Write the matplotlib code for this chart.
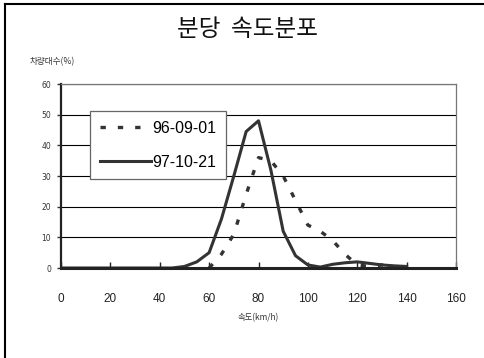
import matplotlib
matplotlib.use('Agg')
import matplotlib.pyplot as plt
from matplotlib.lines import Line2D

# speed (km/h) and share of vehicles (%)
speed_96 = [60, 65, 70, 75, 80, 85, 90, 95, 100, 105, 110, 115, 120, 125, 130, 135, 140]
share_96 = [0, 4.5, 11, 24, 36, 35, 30, 22, 14, 12, 9, 4.5, 1, 0.5, 1, 0.3, 0.3]

speed_97 = [0, 45, 50, 55, 60, 65, 70, 75, 80, 85, 90, 95, 100, 105, 110, 115, 120, 125, 130, 135, 140]
share_97 = [0, 0, 0.5, 2, 5, 16, 30, 44.5, 48, 32, 12, 4, 1, 0.3, 1.2, 1.7, 2, 1.5, 1, 0.7, 0.5]

labels = ['96-09-01', '97-10-21']
xticks = [0, 20, 40, 60, 80, 100, 120, 140, 160]
yticks = [0, 10, 20, 30, 40, 50, 60]

kr = ['Noto Sans CJK KR', 'DejaVu Sans']
narrow = ['Liberation Sans Narrow', 'Liberation Sans', 'DejaVu Sans']

def main():
    fig = plt.figure(figsize=(4.84, 3.58), dpi=100)
    ax = fig.add_axes([61/484, 1 - 268/358, 395/484, 184/358])

    ax.plot(speed_96, share_96, color='#333333', lw=2.4,
            linestyle=(0, (1.6, 3.6)), label=labels[0])
    ax.plot(speed_97, share_97, color='#333333', lw=2.2,
            solid_joinstyle='round', label=labels[1])

    ax.set_xlim(0, 160)
    ax.set_ylim(0, 60)
    ax.set_xticks(xticks)
    ax.set_yticks(yticks)
    ax.yaxis.grid(True, color='black', lw=0.8)
    ax.set_axisbelow(True)

    ax.tick_params(axis='x', direction='in', length=4, width=1, pad=18,
                   labelsize=8.5, colors='#222222')
    ax.tick_params(axis='y', direction='out', length=3, width=1, pad=4,
                   labelsize=5.5, colors='#333333')
    for t in ax.get_xticklabels():
        t.set_family(narrow)

    ax.spines['left'].set_linewidth(1.6)
    ax.spines['left'].set_color('#222222')
    ax.spines['bottom'].set_linewidth(2.2)
    ax.spines['bottom'].set_color('#222222')
    ax.spines['top'].set_color('#777777')
    ax.spines['right'].set_color('#777777')
    ax.spines['top'].set_linewidth(0.9)
    ax.spines['right'].set_linewidth(0.9)

    fig.text(248/484, 1 - 29/358, '분당  속도분포', ha='center', va='center',
             fontsize=17, family=kr, weight='light', color='#111111')
    fig.text(30/484, 1 - 62/358, '차량대수(%)', ha='left', va='center',
             fontsize=6.2, family=kr, color='#333333')
    fig.text(258/484, 1 - 318/358, '속도(km/h)', ha='center', va='center',
             fontsize=6, family=kr, color='#333333')

    leg = ax.legend(loc='upper left', bbox_to_anchor=(90/484, 1 - 111/358),
                    bbox_transform=fig.transFigure, fancybox=False,
                    framealpha=1, edgecolor='#666666', handlelength=3.2,
                    handletextpad=0.1, labelspacing=1.2, borderpad=0.6,
                    borderaxespad=0, prop={'family': narrow, 'size': 11.5})
    leg.get_frame().set_linewidth(0.9)

    # partial frame round the whole chart (top and left edges only)
    fig.add_artist(Line2D([5/484, 1], [1 - 4/358, 1 - 4/358], color='black',
                          lw=1.5, transform=fig.transFigure))
    fig.add_artist(Line2D([5/484, 5/484], [0, 1 - 4/358], color='black',
                          lw=1.5, transform=fig.transFigure))

    fig.savefig('out.png', dpi=100)

if __name__ == '__main__':
    main()
